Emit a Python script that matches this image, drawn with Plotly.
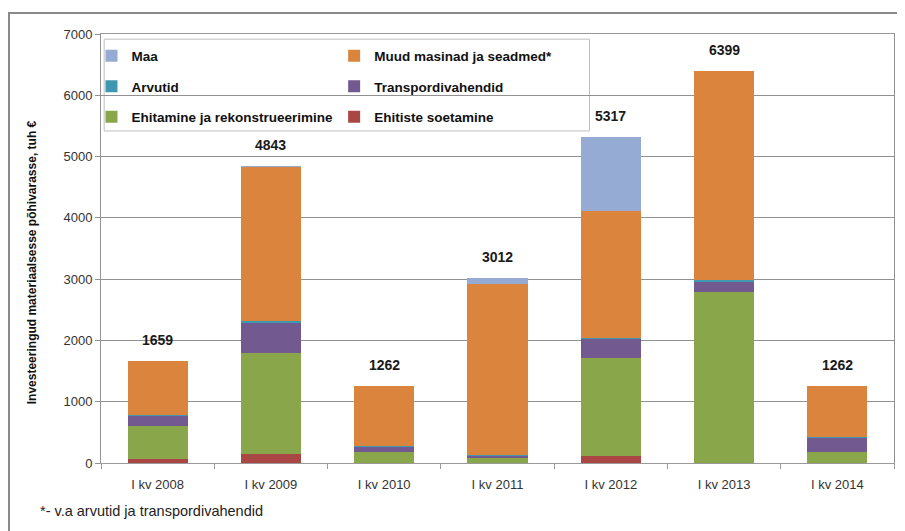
import plotly.graph_objects as go

# Data (tuh €)
quarters = ['I kv 2008', 'I kv 2009', 'I kv 2010', 'I kv 2011', 'I kv 2012', 'I kv 2013', 'I kv 2014']
ehitiste_soetamine = [60, 140, 0, 0, 110, 0, 0]
ehitamine = [548, 1650, 180, 85, 1600, 2790, 180]
transport = [164, 500, 95, 40, 315, 170, 240]
arvutid = [10, 30, 10, 10, 20, 30, 5]
muud_masinad = [877, 2510, 977, 2780, 2070, 3409, 837]
maa = [0, 13, 0, 97, 1202, 0, 0]
totals = [1659, 4843, 1262, 3012, 5317, 6399, 1262]

FONT = 'Liberation Sans'

# stacking order bottom -> top: name, values, colour, legend, rank within legend
series = [
    ('Ehitiste soetamine', ehitiste_soetamine, '#AA4643', 'legend2', 3),
    ('Ehitamine ja rekonstrueerimine', ehitamine, '#8AA64B', 'legend', 3),
    ('Transpordivahendid', transport, '#72598F', 'legend2', 2),
    ('Arvutid', arvutid, '#3F98B0', 'legend', 2),
    ('Muud masinad ja seadmed*', muud_masinad, '#DB843D', 'legend2', 1),
    ('Maa', maa, '#95ABD3', 'legend', 1),
]

fig = go.Figure()
for name, vals, color, leg, rank in series:
    fig.add_trace(go.Bar(x=quarters, y=vals, name=name, legend=leg, legendgroup=name,
                         legendrank=rank, marker=dict(color=color, line=dict(width=0))))

# total labels above bars
for q, t in zip(quarters, totals):
    fig.add_annotation(x=q, y=t, text=str(t), showarrow=False, yshift=21,
                       font=dict(family=FONT, size=14, color='#1a1a1a', weight='bold'))

# y axis title
fig.add_annotation(x=-0.087, y=0.468, xref='paper', yref='paper', textangle=-90,
                   xanchor='center', yanchor='middle',
                   text='Investeeringud materiaalsesse põhivarasse, tuh €', showarrow=False,
                   font=dict(family=FONT, size=12, color='#111111', weight='bold'))

# footnote
fig.add_annotation(x=-0.079, y=-0.112, xref='paper', yref='paper', xanchor='left', yanchor='middle',
                   text='*- v.a arvutid ja transpordivahendid', showarrow=False,
                   font=dict(family=FONT, size=14.5, color='#222222'))

# legend frame (covers gridlines, below bars)
fig.add_shape(type='rect', xref='paper', yref='paper', x0=0.004, x1=0.616, y0=0.774, y1=0.988,
              layer='between', fillcolor='white', line=dict(color='#bfbfbf', width=1))
# outer chart border
fig.add_shape(type='rect', xref='paper', yref='paper', x0=-0.116, x1=1.2, y0=-0.4, y1=1.049,
              line=dict(color='#8a8a8a', width=2))

legend_style = dict(font=dict(family=FONT, size=13.5, color='#111111', weight='bold'),
                    bgcolor='rgba(0,0,0,0)', traceorder='grouped', tracegroupgap=10,
                    yanchor='top', xanchor='left', itemclick=False)

# the page body has an 8px margin, so the figure is 8px smaller with 8px less margin
fig.update_layout(
    width=897, height=523,
    margin=dict(l=93, r=11, t=26, b=68),
    barmode='stack', bargap=0.47,
    plot_bgcolor='white', paper_bgcolor='white',
    font=dict(family=FONT, size=13, color='#333333'),
    legend=dict(x=-0.012, y=0.985, **legend_style),
    legend2=dict(x=0.294, y=0.985, **legend_style),
    xaxis=dict(showline=True, linecolor='#9a9a9a', mirror=True, ticks='outside', ticklen=5,
               tickcolor='#9a9a9a', tickson='boundaries', ticklabelstandoff=9,
               tickfont=dict(size=13, color='#333333')),
    yaxis=dict(range=[0, 7000], dtick=1000, showgrid=True, gridcolor='#919191', gridwidth=1,
               showline=True, linecolor='#919191', mirror=True, ticks='outside', ticklen=5,
               tickcolor='#919191', tickfont=dict(size=13, color='#333333'), zeroline=False),
)

fig.write_html("out.html")
